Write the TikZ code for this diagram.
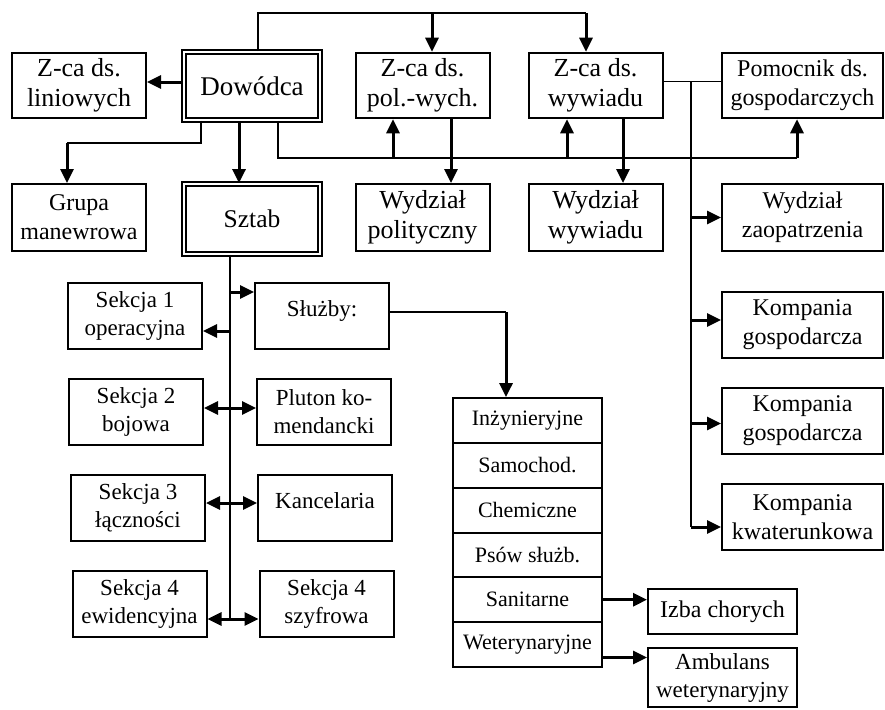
\documentclass[tikz,border=0pt]{standalone}
\usepackage{fontspec}
\setmainfont{Liberation Serif}
\usetikzlibrary{positioning, calc, arrows.meta}
\tikzstyle{box} = [rectangle, minimum width=134pt, minimum height=65.5pt, inner sep=0pt, text centered, align=center, draw=black, line width=2pt, font=\fontsize{26}{30}\selectfont]
\tikzstyle{wide} = [box, minimum width=161pt, font=\fontsize{24}{29}\selectfont]
\tikzstyle{comp} = [wide, minimum height=66.5pt, node distance=96pt]
\tikzstyle{chief} = [box, double, double distance=2pt, line width=2.2pt, minimum width=135.6pt]
\tikzstyle{sect} = [box, minimum height=66.5pt, node distance=96pt, font=\fontsize{23}{28}\selectfont]
\tikzstyle{cell} = [box, minimum width=149pt, minimum height=44.8pt, node distance=44.8pt, font=\fontsize{22}{26}\selectfont]
\tikzstyle{topline} = [text height=10pt, text depth=10pt]
\tikzstyle{line} = [line width=1.8pt]
\tikzstyle{arrow} = [-{Triangle[length=14pt, width=13pt]}, line width=3pt]

\begin{document}
\begin{tikzpicture}[x=1pt, y=-1pt, node distance=132pt]
  \useasboundingbox (0,0) rectangle (885,709);
  % kierownictwo
  \node (zlin) [box] at (79,85.5) {Z-ca ds.\\liniowych};
  \node (dow) [chief, minimum height=67.6pt, font=\fontsize{27}{30}\selectfont] at (252,86) {Dowódca};
  \node (zpol) [box] at (422.5,85.5) {Z-ca ds.\\pol.-wych.};
  \node (zwyw) [box] at (595.5,85.5) {Z-ca ds.\\wywiadu};
  \node (pom) [wide] at (802.5,85.5) {Pomocnik ds.\\gospodarczych};
  \node (grupa) [box, minimum height=67pt, below of=zlin, font=\fontsize{24}{29}\selectfont] {Grupa\\manewrowa};
  \node (sztab) [chief, minimum height=69.6pt, below of=dow, yshift=-1pt, font=\fontsize{25.5}{30}\selectfont] {Sztab};
  \node (wpol) [box, minimum height=67pt, below of=zpol] {Wydział\\polityczny};
  \node (wwyw) [box, minimum height=67pt, below of=zwyw] {Wydział\\wywiadu};
  \node (wzaop) [wide, minimum height=67pt, below of=pom] {Wydział\\zaopatrzenia};
  \node (kg1) [comp, below of=wzaop, yshift=-11.5pt] {Kompania\\gospodarcza};
  \node (kg2) [comp, below of=kg1] {Kompania\\gospodarcza};
  \node (kkw) [comp, below of=kg2] {Kompania\\kwaterunkowa};

  % sztab
  \node (s1) [sect] at (135,316) {Sekcja 1\\operacyjna};
  \node (s2) [sect, below of=s1, xshift=1pt] {Sekcja 2\\bojowa};
  \node (s3) [sect, below of=s2, xshift=2pt] {Sekcja 3\\łączności};
  \node (s4e) [sect, below of=s3, xshift=1.5pt] {Sekcja 4\\ewidencyjna};
  \node (sluzby) [sect, topline] at (322,316) {Służby:};
  \node (pluton) [sect, below of=sluzby, xshift=2pt] {Pluton ko-\\mendancki};
  \node (kanc) [sect, topline, below of=pluton, xshift=1pt] {Kancelaria};
  \node (s4s) [sect, below of=kanc, xshift=1.5pt] {Sekcja 4\\szyfrowa};

  % sluzby
  \node (ing) [cell] at (527.5,420.5) {Inżynieryjne};
  \node (sam) [cell, below of=ing] {Samochod.};
  \node (chem) [cell, below of=sam] {Chemiczne};
  \node (psy) [cell, below of=chem] {Psów służb.};
  \node (san) [cell, below of=psy] {Sanitarne};
  \node (wet) [cell, below of=san] {Weterynaryjne};
  \node (izba) [cell, font=\fontsize{24}{28}\selectfont] at (722.5,611.5) {Izba chorych};
  \node (amb) [cell, minimum height=59pt, font=\fontsize{23}{28}\selectfont] at (722.5,677.5) {Ambulans\\weterynaryjny};

  % polaczenia gorne
  \coordinate (tA) at (258,13);
  \coordinate (tB) at (586,13);
  \coordinate (tC) at (432,13);
  \draw [line] (dow.north -| tA) -- (tA) -- (tB);
  \draw [arrow] (tC) -- (zpol.north -| tC);
  \draw [arrow] (tB) -- (zwyw.north -| tB);
  \coordinate (dw) at ([yshift=4pt]dow.west);
  \draw [arrow] (dw) -- (dw -| zlin.east);
  \coordinate (gA) at (201,143);
  \coordinate (gB) at (67,143);
  \draw [line] (dow.south -| gA) -- (gA) -- (gB);
  \draw [arrow] (gB) -- (grupa.north -| gB);
  \draw [arrow] ([xshift=-13pt]dow.south) -- ([xshift=-13pt]sztab.north);
  \coordinate (bA) at (278,158);
  \coordinate (bB) at (797,158);
  \coordinate (bC) at (393,158);
  \coordinate (bD) at (567,158);
  \draw [line] (dow.south -| bA) -- (bA) -- (bB);
  \draw [arrow] (bC) -- (zpol.south -| bC);
  \draw [arrow] (bD) -- (zwyw.south -| bD);
  \draw [arrow] (bB) -- (pom.south -| bB);
  \draw [arrow] ([xshift=28.5pt]zpol.south) -- ([xshift=28.5pt]wpol.north);
  \draw [arrow] ([xshift=27.5pt]zwyw.south) -- ([xshift=27.5pt]wwyw.north);

  % pion gospodarczy
  \coordinate (vA) at (691,82);
  \coordinate (vB) at (691,527);
  \draw [line] ([yshift=4pt]zwyw.east) -- ([yshift=4pt]pom.west);
  \draw [line] (vA) -- (vB);
  \draw [arrow] (wzaop.west -| vA) -- (wzaop.west);
  \coordinate (k1) at ([yshift=5pt]kg1.west);
  \coordinate (k2) at ([yshift=-2.5pt]kg2.west);
  \coordinate (k3) at ([yshift=-10pt]kkw.west);
  \draw [arrow] (k1 -| vA) -- (k1);
  \draw [arrow] (k2 -| vA) -- (k2);
  \draw [arrow] (k3 -| vA) -- (k3);

  % pion sztabu
  \coordinate (sB) at (230,619);
  \draw [line, line width=2.8pt] ([xshift=-22pt]sztab.south) -- (sB);
  \coordinate (a1) at ([yshift=24pt]sluzby.west);
  \coordinate (a2) at ([yshift=-15pt]s1.east);
  \coordinate (a3) at ([yshift=4pt]s2.east);
  \coordinate (a4) at ([yshift=5pt]s3.east);
  \coordinate (a5) at ([yshift=-15pt]s4e.east);
  \draw [arrow] (a1 -| sB) -- (a1);
  \draw [arrow] (a2 -| sB) -- (a2);
  \draw [arrow] (a3 -| sB) -- (a3);
  \draw [arrow] (a3 -| sB) -- (a3 -| pluton.west);
  \draw [arrow] (a4 -| sB) -- (a4);
  \draw [arrow] (a4 -| sB) -- (a4 -| kanc.west);
  \draw [arrow] (a5 -| sB) -- (a5);
  \draw [arrow] (a5 -| sB) -- (a5 -| s4s.west);

  % sluzby
  \coordinate (slA) at (506,312);
  \draw [line] ([yshift=4pt]sluzby.east) -- (slA);
  \draw [arrow] (slA) -- (ing.north -| slA);
  \draw [arrow] (san.east) -- (san.east -| izba.west);
  \coordinate (wA) at ([yshift=-13pt]wet.east);
  \draw [arrow] (wA) -- (wA -| amb.west);
\end{tikzpicture}
\end{document}
